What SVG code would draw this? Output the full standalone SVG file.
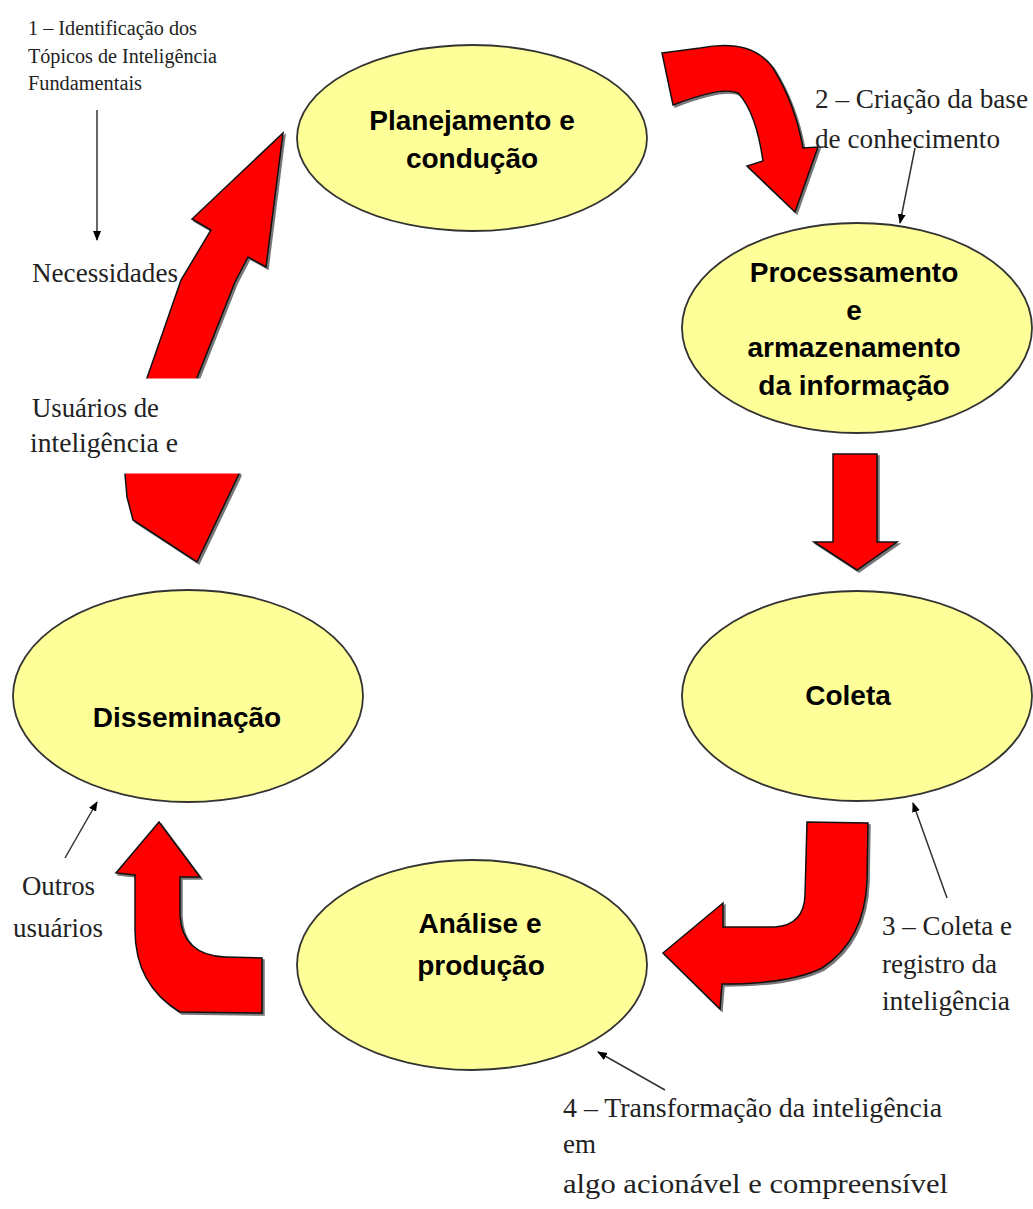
<svg xmlns="http://www.w3.org/2000/svg" width="1033" height="1209" viewBox="0 0 1033 1209">
<style>
.node ellipse{fill:#FFFF99;stroke:#333;stroke-width:1.8}
.nt{font-family:"Liberation Sans",Arial,sans-serif;font-weight:bold;font-size:28px;fill:#000;text-anchor:middle}
.lb{font-family:"Liberation Serif","Times New Roman",serif;font-size:27px;fill:#222}
.sm{font-family:"Liberation Serif","Times New Roman",serif;font-size:20px;fill:#222}
.red{fill:#FF0000;stroke:#111;stroke-width:1.5;stroke-linejoin:miter}
.shd{fill:#777;stroke:#777;stroke-width:1.5}
.thin{stroke:#333;stroke-width:1.5;fill:none;marker-end:url(#ah)}
</style>
<defs>
<marker id="ah" markerWidth="10" markerHeight="10" refX="9" refY="5" orient="auto" markerUnits="userSpaceOnUse">
<path d="M0,1 L10,5 L0,9 Z" fill="#000"/>
</marker>
<path id="a1" d="M283,133 L266,267 L248,257 L235,282 L197,378 L220,420 L239,474 L197,562 L133,520 L127,497 L125,474 L140,420 L147,378 L181,280 L211,230 L192,219 Z"/>
<path id="a2" d="M662,53 L700,48 Q752,38 773,68 Q795,103 803,148 L818,147 L795,212 L747,166 L763,161 Q756,112 738,93 Q722,86 673,105 Z"/>
<path id="a3" d="M833,454 L877,454 L877,542 L897,542 L857,570 L814,542 L833,542 Z"/>
<path id="a4" d="M807,822 L868,823 L867,880 Q865,940 822,968 Q790,984 722,984 L720,1009 L663,953 L723,903 L723,927 L775,927 Q804,925 805,895 Z"/>
<path id="a5" d="M159,822 L200,877 L180,877 L180,915 Q182,955 225,957 L262,958 L262,1013 L180,1012 Q135,985 135,930 L135,875 L116,873 Z"/>
</defs>
<rect width="1033" height="1209" fill="#fff"/>

<g id="connectors">
<use href="#a1" class="shd" transform="translate(2,2)"/><use href="#a1" class="red"/>
<use href="#a2" class="shd" transform="translate(2,2)"/><use href="#a2" class="red"/>
<use href="#a3" class="shd" transform="translate(2,2)"/><use href="#a3" class="red"/>
<use href="#a4" class="shd" transform="translate(2,2)"/><use href="#a4" class="red"/>
<use href="#a5" class="shd" transform="translate(2,2)"/><use href="#a5" class="red"/>
<rect x="0" y="378.5" width="260" height="95" fill="#fff"/>
<line class="thin" x1="97" y1="110" x2="97" y2="240"/>
<line class="thin" x1="915" y1="148" x2="900" y2="223"/>
<line class="thin" x1="947" y1="898" x2="913" y2="803"/>
<line class="thin" x1="665" y1="1090" x2="598" y2="1052"/>
<line class="thin" x1="65" y1="858" x2="97" y2="802"/>
</g>

<g id="node-planejamento" class="node">
<ellipse cx="472" cy="138" rx="175" ry="93"/>
<text class="nt" x="472" y="130">Planejamento e</text>
<text class="nt" x="472" y="168">condução</text>
</g>
<g id="node-processamento" class="node">
<ellipse cx="857" cy="328" rx="175" ry="105"/>
<text class="nt" x="854" y="282">Processamento</text>
<text class="nt" x="854" y="320">e</text>
<text class="nt" x="854" y="357">armazenamento</text>
<text class="nt" x="854" y="395">da informação</text>
</g>
<g id="node-coleta" class="node">
<ellipse cx="857" cy="696" rx="175" ry="105"/>
<text class="nt" x="848" y="705">Coleta</text>
</g>
<g id="node-analise" class="node">
<ellipse cx="472" cy="965" rx="175" ry="105"/>
<text class="nt" x="480" y="933">Análise e</text>
<text class="nt" x="481" y="975">produção</text>
</g>
<g id="node-disseminacao" class="node">
<ellipse cx="188" cy="696" rx="175" ry="106"/>
<text class="nt" x="187" y="727">Disseminação</text>
</g>

<g id="labels">
<text class="sm" x="28" y="35" textLength="169" lengthAdjust="spacingAndGlyphs">1 – Identificação dos</text>
<text class="sm" x="28" y="63" textLength="189" lengthAdjust="spacingAndGlyphs">Tópicos de Inteligência</text>
<text class="sm" x="28" y="90" textLength="114" lengthAdjust="spacingAndGlyphs">Fundamentais</text>
<text class="lb" x="32" y="282" textLength="146" lengthAdjust="spacingAndGlyphs">Necessidades</text>
<text class="lb" x="32" y="417" textLength="127" lengthAdjust="spacingAndGlyphs">Usuários de</text>
<text class="lb" x="30" y="452" textLength="148" lengthAdjust="spacingAndGlyphs">inteligência e</text>
<text class="lb" x="815" y="108" textLength="213" lengthAdjust="spacingAndGlyphs">2 – Criação da base</text>
<text class="lb" x="815" y="148" textLength="185" lengthAdjust="spacingAndGlyphs">de conhecimento</text>
<text class="lb" x="882" y="935" textLength="130" lengthAdjust="spacingAndGlyphs">3 – Coleta e</text>
<text class="lb" x="882" y="973" textLength="115" lengthAdjust="spacingAndGlyphs">registro da</text>
<text class="lb" x="882" y="1010" textLength="128" lengthAdjust="spacingAndGlyphs">inteligência</text>
<text class="lb" x="22" y="895" font-size="24" textLength="73" lengthAdjust="spacingAndGlyphs">Outros</text>
<text class="lb" x="13" y="937" font-size="24" textLength="90" lengthAdjust="spacingAndGlyphs">usuários</text>
<text class="lb" x="563" y="1117" textLength="379" lengthAdjust="spacingAndGlyphs">4 – Transformação da inteligência</text>
<text class="lb" x="563" y="1153">em</text>
<text class="lb" x="563" y="1193" textLength="385" lengthAdjust="spacingAndGlyphs">algo acionável e compreensível</text>
</g>
</svg>
